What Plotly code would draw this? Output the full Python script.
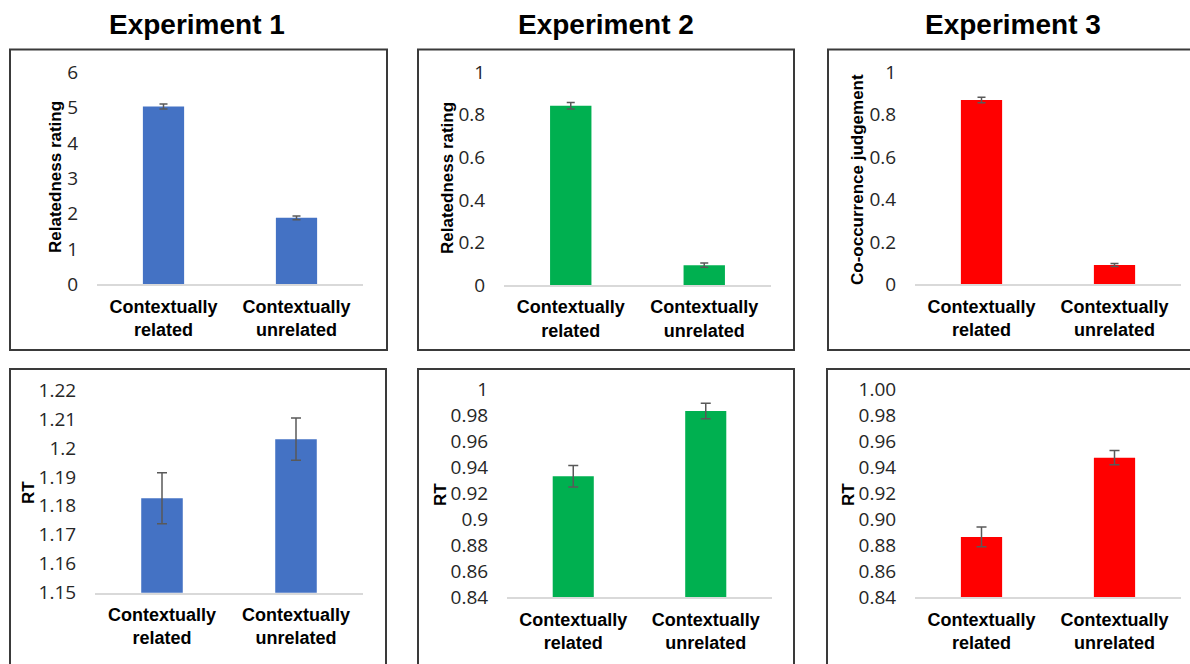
import plotly.graph_objects as go

W, H = 1190, 664

# ---- data -------------------------------------------------------------
categories = ["Contextually related", "Contextually unrelated"]
category_labels = ["Contextually<br>related", "Contextually<br>unrelated"]

experiments = ["Experiment 1", "Experiment 2", "Experiment 3"]
colors = ["#4472C4", "#00B050", "#FF0000"]

# upper row: judgements
exp1_rating = [5.03, 1.88]
exp1_rating_err = [0.07, 0.05]
exp2_rating = [0.843, 0.093]
exp2_rating_err = [0.015, 0.010]
exp3_cooc = [0.869, 0.091]
exp3_cooc_err = [0.013, 0.007]

# lower row: response times
exp1_rt = [1.1826, 1.2030]
exp1_rt_err = [0.0088, 0.0073]
exp2_rt = [0.9331, 0.9833]
exp2_rt_err = [0.0082, 0.0060]
exp3_rt = [0.8864, 0.9474]
exp3_rt_err = [0.0076, 0.0055]

# y-axis ticks
rating1_ticks = [0, 1, 2, 3, 4, 5, 6]
rating1_labels = ["0", "1", "2", "3", "4", "5", "6"]
prop_ticks = [0, 0.2, 0.4, 0.6, 0.8, 1.0]
prop_labels = ["0", "0.2", "0.4", "0.6", "0.8", "1"]
rt1_ticks = [1.15, 1.16, 1.17, 1.18, 1.19, 1.20, 1.21, 1.22]
rt1_labels = ["1.15", "1.16", "1.17", "1.18", "1.19", "1.2", "1.21", "1.22"]
rt2_ticks = [0.84, 0.86, 0.88, 0.90, 0.92, 0.94, 0.96, 0.98, 1.00]
rt2_labels = ["0.84", "0.86", "0.88", "0.9", "0.92", "0.94", "0.96", "0.98", "1"]
rt3_labels = ["0.84", "0.86", "0.88", "0.90", "0.92", "0.94", "0.96", "0.98", "1.00"]

# ---- panel layout (pixel geometry) -----------------------------------
# each panel: values, errors, colour, y-range, ticks, tick labels, axis title,
# plot x-extent (px), plot y-extent (px, top/bottom), title position (px)
panels = [
    dict(y=exp1_rating, e=exp1_rating_err, c=colors[0], rng=[0, 6],
         tv=rating1_ticks, tt=rating1_labels, title="Relatedness rating",
         x=(97, 363), yy=(72.3, 284.3), tpos=(55, 177), cap=4),
    dict(y=exp2_rating, e=exp2_rating_err, c=colors[1], rng=[0, 1],
         tv=prop_ticks, tt=prop_labels, title="Relatedness rating",
         x=(504, 771), yy=(72.3, 285), tpos=(447, 178), cap=4),
    dict(y=exp3_cooc, e=exp3_cooc_err, c=colors[2], rng=[0, 1],
         tv=prop_ticks, tt=prop_labels, title="Co-occurrence judgement",
         x=(915, 1181), yy=(72.3, 284.3), tpos=(857, 180), cap=4),
    dict(y=exp1_rt, e=exp1_rt_err, c=colors[0], rng=[1.15, 1.22],
         tv=rt1_ticks, tt=rt1_labels, title="RT",
         x=(95, 363), yy=(390, 592.7), tpos=(28, 493), cap=5),
    dict(y=exp2_rt, e=exp2_rt_err, c=colors[1], rng=[0.84, 1.0],
         tv=rt2_ticks, tt=rt2_labels, title="RT",
         x=(507, 772), yy=(389.3, 597.3), tpos=(440, 495), cap=5),
    dict(y=exp3_rt, e=exp3_rt_err, c=colors[2], rng=[0.84, 1.0],
         tv=rt2_ticks, tt=rt3_labels, title="RT",
         x=(915, 1181), yy=(389.3, 597.3), tpos=(848, 495), cap=5),
]

# framed boxes around each panel (px: x0, x1, top, bottom)
boxes = [
    (10, 387, 49.5, 350), (418, 794, 49.5, 350), (828, 1205, 49.5, 350),
    (10, 386, 369, 680), (418, 794, 369, 680), (827, 1205, 369, 680),
]
title_x = [197, 606, 1013]


def px(x):
    return x / W


def py(y):
    return 1 - y / H


fig = go.Figure()
layout = dict(
    width=W, height=H,
    margin=dict(l=0, r=0, t=0, b=0, pad=0, autoexpand=False),
    paper_bgcolor="white", plot_bgcolor="white",
    showlegend=False, bargap=0.69,
    shapes=[], annotations=[],
)

for i, p in enumerate(panels):
    n = "" if i == 0 else str(i + 1)
    fig.add_trace(go.Bar(
        x=categories, y=p["y"],
        marker=dict(color=p["c"], line=dict(width=0)),
        error_y=dict(type="data", array=p["e"], color="#595959",
                     thickness=1.5, width=p["cap"]),
        xaxis="x" + n, yaxis="y" + n,
    ))
    layout["xaxis" + n] = dict(
        domain=[px(p["x"][0]), px(p["x"][1])],
        anchor="y" + n, type="category", automargin=False,
        categoryorder="array", categoryarray=categories,
        tickvals=categories, ticktext=category_labels,
        tickfont=dict(family="Liberation Sans, Arial", size=18,
                      color="#000000", weight="bold"),
        ticks="outside", ticklen=5, tickcolor="rgba(0,0,0,0)",
        showline=True, linecolor="#D9D9D9", linewidth=1.5,
        showgrid=False, zeroline=False, fixedrange=True,
    )
    layout["yaxis" + n] = dict(
        domain=[py(p["yy"][1]), py(p["yy"][0])],
        anchor="x" + n, range=p["rng"], automargin=False,
        tickvals=p["tv"], ticktext=p["tt"],
        tickfont=dict(family="Open Sans", size=19, color="#262626"),
        ticks="outside", ticklen=14, tickcolor="rgba(0,0,0,0)",
        showline=False, showgrid=False, zeroline=False, fixedrange=True,
    )
    layout["annotations"].append(dict(
        text=p["title"], xref="paper", yref="paper",
        x=px(p["tpos"][0]), y=py(p["tpos"][1]),
        xanchor="center", yanchor="middle", textangle=-90, showarrow=False,
        font=dict(family="Liberation Sans, Arial", size=17,
                  color="#000000", weight="bold"),
    ))

for x0, x1, top, bottom in boxes:
    layout["shapes"].append(dict(
        type="rect", xref="paper", yref="paper",
        x0=px(x0), x1=px(x1), y0=py(bottom), y1=py(top),
        line=dict(color="#3A3A3A", width=2), fillcolor="rgba(0,0,0,0)",
        layer="below",
    ))

for name, tx in zip(experiments, title_x):
    layout["annotations"].append(dict(
        text=name, xref="paper", yref="paper",
        x=px(tx), y=py(24), xanchor="center", yanchor="middle",
        showarrow=False,
        font=dict(family="Liberation Sans, Arial", size=28,
                  color="#000000", weight="bold"),
    ))

fig.update_layout(**layout)
fig.write_html("out.html")
